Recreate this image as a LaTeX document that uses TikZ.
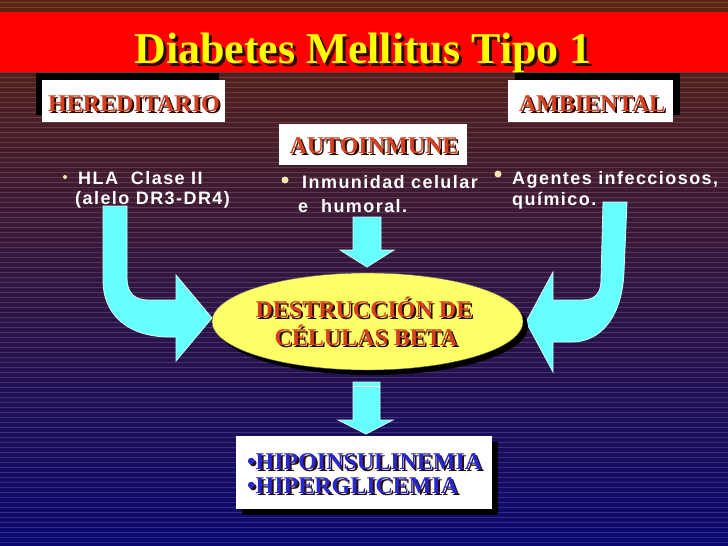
\documentclass[tikz,border=0pt]{standalone}
\usepackage{fontspec}
\setmainfont{Liberation Serif}
\setsansfont{Liberation Sans}
\usetikzlibrary{shapes.geometric,shadows}

\definecolor{bgtop}{RGB}{92,36,16}
\definecolor{bgmid}{RGB}{50,18,64}
\definecolor{bgbot}{RGB}{10,8,112}
\definecolor{bandred}{RGB}{255,0,0}
\definecolor{titleyellow}{RGB}{255,255,0}
\definecolor{boxred}{RGB}{214,64,32}
\definecolor{boxblue}{RGB}{40,40,210}
\definecolor{textshade}{RGB}{40,12,0}
\definecolor{arrowcyan}{RGB}{102,255,255}
\definecolor{dotbeige}{RGB}{245,230,176}
\definecolor{ellyellow}{RGB}{255,255,102}

\newcommand\shadowed[3]{\makebox[0pt][l]{\kern#3\raisebox{-#3}{\color{textshade}#2}}{\color{#1}#2}}

\tikzset{
  stripe/.style={white, opacity=0.14, line width=1pt},
  labelbox/.style={fill=white, inner sep=0pt, minimum height=42pt},
  headtext/.style={font=\fontsize{24}{28}\selectfont\bfseries, inner sep=0pt, anchor=base},
  titletext/.style={font=\fontsize{44}{48}\selectfont\bfseries, inner sep=0pt, anchor=base},
  bullettext/.style={font=\sffamily\bfseries\fontsize{18}{20}\selectfont\addfontfeature{LetterSpace=8},
    text=white, inner sep=0pt, anchor=base west},
  dot/.style={circle, fill=dotbeige, inner sep=0pt},
  blockarrow/.style={fill=arrowcyan, draw=white!70!arrowcyan, line width=0.8pt, line join=miter}
}

\begin{document}
\begin{tikzpicture}[x=1pt, y=-1pt]
  \useasboundingbox (0,0) rectangle (728,546);
  \shade[top color=bgtop, middle color=bgmid, bottom color=bgbot] (0,0) rectangle (728,546);
  \foreach \y in {2,7,...,545}
    \draw[stripe] (0,\y) -- (728,\y);
  \fill[white] (342,12) arc[start angle=180, end angle=0, x radius=23, y radius=10] -- cycle;
  \fill[bandred] (0,12) rectangle (728,72);

  \node[titletext] (title) at (363,63) {\shadowed{titleyellow}{Diabetes Mellitus Tipo 1}{3pt}};

  \node[labelbox, minimum width=183pt,
    drop shadow={shadow xshift=-6pt, shadow yshift=7pt, fill=black, opacity=1}] (hered) at (133.5,101) {};
  \node[labelbox, minimum width=165pt,
    drop shadow={shadow xshift=7pt, shadow yshift=7pt, fill=black, opacity=1}] (ambie) at (590.5,101) {};
  \node[labelbox, minimum width=188pt, minimum height=41pt] (autoi) at (373,144.5) {};
  \node[headtext] (hered-t) at (134,111) {\shadowed{boxred}{HEREDITARIO}{2pt}};
  \node[headtext] (ambie-t) at (592,111) {\shadowed{boxred}{AMBIENTAL}{2pt}};
  \node[headtext] (autoi-t) at (374,153) {\shadowed{boxred}{AUTOINMUNE}{2pt}};

  \node[dot, minimum size=4pt] (dot1) at (65,177) {};
  \node[bullettext] (hla) at (78,184) {HLA\ \ Clase II};
  \node[bullettext] (alelo) at (75,204) {(alelo DR3-DR4)};
  \node[dot, minimum size=7pt] (dot2) at (285,180) {};
  \node[bullettext] (inmun) at (302,188) {Inmunidad celular};
  \node[bullettext] (humor) at (298,212) {e\ \ humoral.};
  \node[dot, minimum size=7pt] (dot3) at (498,174) {};
  \node[bullettext] (agent) at (512,184) {Agentes infecciosos,};
  \node[bullettext] (quimi) at (512,205) {químico.};

  \draw[blockarrow] (103,206) -- (127,206) -- (127,278) .. controls (127,292) and (134,300) .. (148,300)
    -- (176,300) -- (176,275) -- (212,318) -- (176,361) -- (176,337) -- (170,337)
    .. controls (128,337) and (103,315) .. (103,280) -- cycle;
  \draw[blockarrow] (603,202) -- (627,202) -- (624,272) .. controls (622,318) and (600,342) .. (572,342)
    -- (553,342) -- (553,372) -- (526,322) -- (553,272) -- (553,300) -- (582,300)
    .. controls (596,300) and (601,292) .. (601,280) -- cycle;
  \draw[blockarrow] (353,217) -- (381,217) -- (381,250) -- (394,250) -- (367,267) -- (340,250) -- (353,250) -- cycle;

  \node[ellipse, fill=ellyellow, draw=black!60, minimum width=311pt, minimum height=97pt,
    drop shadow={shadow xshift=5pt, shadow yshift=-5pt, fill=black, opacity=1}] (destr) at (367.5,321.5) {};
  \node[headtext] (destr-1) at (364,317) {\shadowed{boxred}{DESTRUCCIÓN DE}{2pt}};
  \node[headtext] (destr-2) at (366,345) {\shadowed{boxred}{CÉLULAS BETA}{2pt}};

  \draw[blockarrow] (353,382) -- (380,382) -- (380,420) -- (393,420) -- (366,434) -- (338,420) -- (353,420) -- cycle;
  \draw[white, line width=1pt] (353,386) -- (380,386);

  \node[fill=white, inner sep=0pt, minimum width=256pt, minimum height=73pt,
    drop shadow={shadow xshift=6pt, shadow yshift=-6pt, fill=black, opacity=1}] (resul) at (364,472.5) {};
  \node[headtext, anchor=base west] (hipo1) at (247,469) {\shadowed{boxblue}{\textbullet HIPOINSULINEMIA}{2pt}};
  \node[headtext, anchor=base west] (hipo2) at (247,493) {\shadowed{boxblue}{\textbullet HIPERGLICEMIA}{2pt}};
\end{tikzpicture}
\end{document}
